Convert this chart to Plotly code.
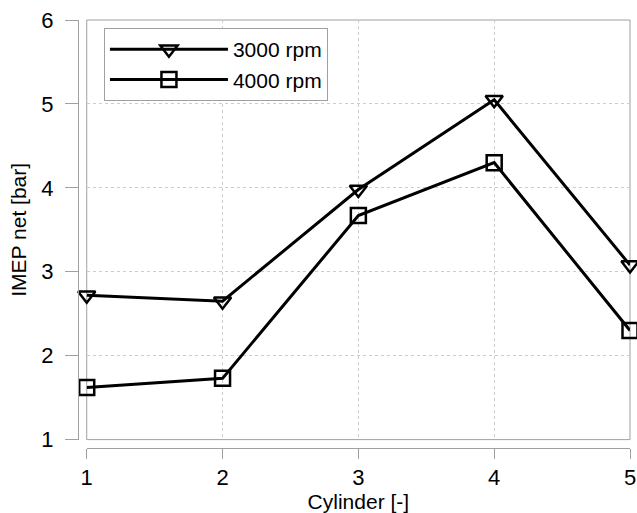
import plotly.graph_objects as go

cylinders = [1, 2, 3, 4, 5]
imep_3000 = [2.72, 2.65, 3.98, 5.05, 3.08]
imep_4000 = [1.62, 1.73, 3.67, 4.30, 2.30]
x_ticks = [1, 2, 3, 4, 5]
y_ticks = [1, 2, 3, 4, 5, 6]

FONT = "Liberation Sans, Arial, sans-serif"
AXIS_GRAY = "#a0a0a0"
GRID_GRAY = "#cccccc"

fig = go.Figure()
fig.add_trace(go.Scatter(
    x=cylinders, y=imep_3000, name="3000 rpm", mode="lines+markers",
    line=dict(color="black", width=3),
    marker=dict(symbol="triangle-down-open", size=15, color="black",
                line=dict(width=2.5, color="black")),
    cliponaxis=False,
))
fig.add_trace(go.Scatter(
    x=cylinders, y=imep_4000, name="4000 rpm", mode="lines+markers",
    line=dict(color="black", width=3),
    marker=dict(symbol="square-open", size=15, color="black",
                line=dict(width=2.5, color="black")),
    cliponaxis=False,
))

fig.update_layout(
    width=637, height=513,
    margin=dict(l=78, r=7, t=20, b=65, autoexpand=False),
    paper_bgcolor="white", plot_bgcolor="white",
    font=dict(family=FONT, size=22, color="black"),
    xaxis=dict(
        domain=[0.0158, 1], anchor="free", position=0, automargin=False,
        range=[1, 5], tickvals=x_ticks, ticklabeloverflow="allow",
        showline=True, linecolor=AXIS_GRAY, linewidth=1,
        ticks="outside", ticklen=10, tickcolor=AXIS_GRAY,
        showgrid=True, gridcolor=GRID_GRAY, griddash="dot", gridwidth=1,
        zeroline=False,
        title=dict(text="Cylinder [-]", standoff=0, font=dict(size=21)),
        tickfont=dict(size=22),
    ),
    yaxis=dict(
        domain=[0.0196, 1], anchor="free", position=0, automargin=False,
        range=[1, 6], tickvals=y_ticks, ticklabeloverflow="allow",
        showline=True, linecolor=AXIS_GRAY, linewidth=1,
        ticks="outside", ticklen=13, tickcolor=AXIS_GRAY,
        ticklabelstandoff=7,
        showgrid=True, gridcolor=GRID_GRAY, griddash="dot", gridwidth=1,
        zeroline=False,
        title=dict(text="IMEP net [bar]", standoff=7, font=dict(size=21)),
        tickfont=dict(size=22),
    ),
    legend=dict(
        x=0.047, y=0.981, xanchor="left", yanchor="top",
        bgcolor="white", bordercolor=AXIS_GRAY, borderwidth=1,
        font=dict(size=21), itemwidth=118, tracegroupgap=0,
    ),
    showlegend=True,
)

fig.add_shape(type="rect", xref="x domain", yref="y domain",
              x0=0, x1=1, y0=0, y1=1, line=dict(color=AXIS_GRAY, width=1),
              layer="below")

# remove the default page margin so the figure fills the window exactly
fig.write_html(
    "out.html",
    config={"displayModeBar": False},
    post_script="document.body.style.margin='0';document.body.style.overflow='hidden';",
)
